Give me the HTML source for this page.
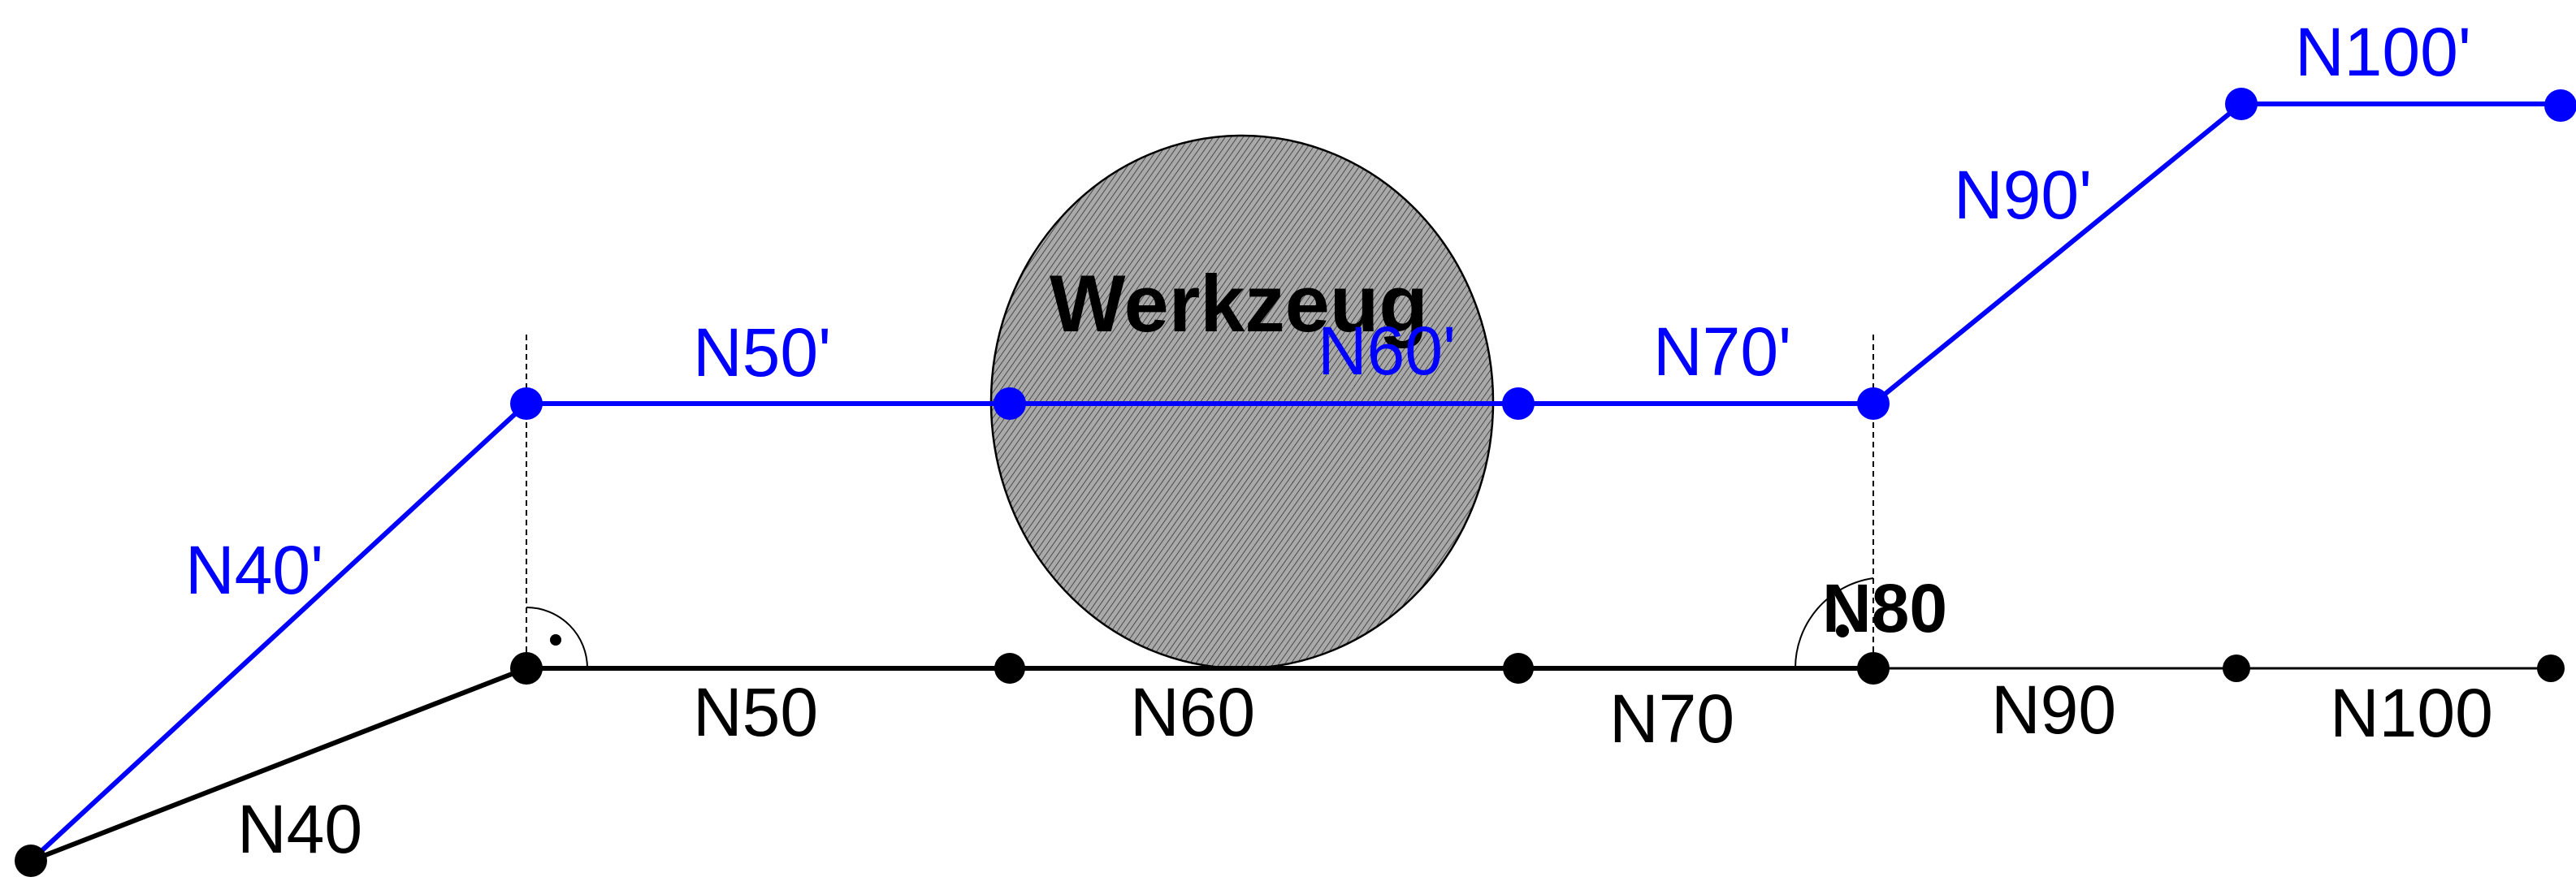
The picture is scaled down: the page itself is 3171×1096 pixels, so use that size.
<!DOCTYPE html>
<html><head><meta charset="utf-8"><style>
html,body{margin:0;padding:0;background:#fff;}
svg{display:block;}
text{font-family:"Liberation Sans",Arial,sans-serif;}
</style></head><body>
<svg width="3171" height="1096" viewBox="0 0 3171 1096" xmlns="http://www.w3.org/2000/svg">
<defs>
<pattern id="h" patternUnits="userSpaceOnUse" width="6" height="6" patternTransform="rotate(35)">
<rect width="6" height="6" fill="#a9a9a9"/>
<line x1="0" y1="0" x2="0" y2="6" stroke="#222" stroke-width="1.4"/>
</pattern>
</defs>
<!-- tool -->
<ellipse cx="1529" cy="495" rx="309" ry="328" fill="url(#h)" stroke="#000" stroke-width="2.5"/>
<text x="1292" y="408" font-size="99" font-weight="bold" fill="#000">Werkzeug</text>
<!-- dashed verticals -->
<line x1="648" y1="412" x2="648" y2="823" stroke="#000" stroke-width="2" stroke-dasharray="7,5"/>
<line x1="2306" y1="412" x2="2306" y2="823" stroke="#000" stroke-width="2" stroke-dasharray="7,5"/>
<!-- angle markers -->
<path d="M648 748 A75 75 0 0 1 723 823" fill="none" stroke="#000" stroke-width="2"/>
<circle cx="684" cy="788" r="7" fill="#000"/>
<path d="M2306 712 A112 112 0 0 0 2210 823" fill="none" stroke="#000" stroke-width="2"/>
<circle cx="2268" cy="777" r="8" fill="#000"/>
<!-- black path -->
<line x1="38" y1="1060" x2="648" y2="823" stroke="#000" stroke-width="6"/>
<line x1="648" y1="823" x2="2306" y2="823" stroke="#000" stroke-width="6"/>
<line x1="2306" y1="823" x2="3140" y2="823" stroke="#000" stroke-width="3"/>
<!-- blue path -->
<polyline points="38,1060 648,497 2306,497 2759,128 3152,128" fill="none" stroke="#0000ff" stroke-width="6"/>
<!-- nodes -->
<g fill="#000">
<circle cx="38" cy="1060" r="20"/>
<circle cx="648" cy="823" r="20"/>
<circle cx="1243" cy="823" r="19"/>
<circle cx="1869" cy="823" r="19"/>
<circle cx="2306" cy="823" r="20"/>
<circle cx="2753" cy="823" r="17"/>
<circle cx="3140" cy="823" r="17"/>
</g>
<g fill="#0000ff">
<circle cx="648" cy="497" r="20"/>
<circle cx="1243" cy="497" r="20"/>
<circle cx="1869" cy="497" r="20"/>
<circle cx="2306" cy="497" r="20"/>
<circle cx="2759" cy="128" r="20"/>
<circle cx="3152" cy="130" r="20"/>
</g>
<!-- labels -->
<g font-size="84" fill="#0000ff">
<text x="228" y="731">N40'</text>
<text x="853" y="463">N50'</text>
<text x="1622" y="461">N60'</text>
<text x="2035" y="462">N70'</text>
<text x="2405" y="269">N90'</text>
<text x="2825" y="93">N100'</text>
</g>
<g font-size="84" fill="#000">
<text x="292" y="1050">N40</text>
<text x="853" y="906">N50</text>
<text x="1391" y="906">N60</text>
<text x="1981" y="914">N70</text>
<text x="2451" y="903">N90</text>
<text x="2868" y="907">N100</text>
<text x="2243" y="778" font-weight="bold">N80</text>
</g>
</svg>
</body></html>
